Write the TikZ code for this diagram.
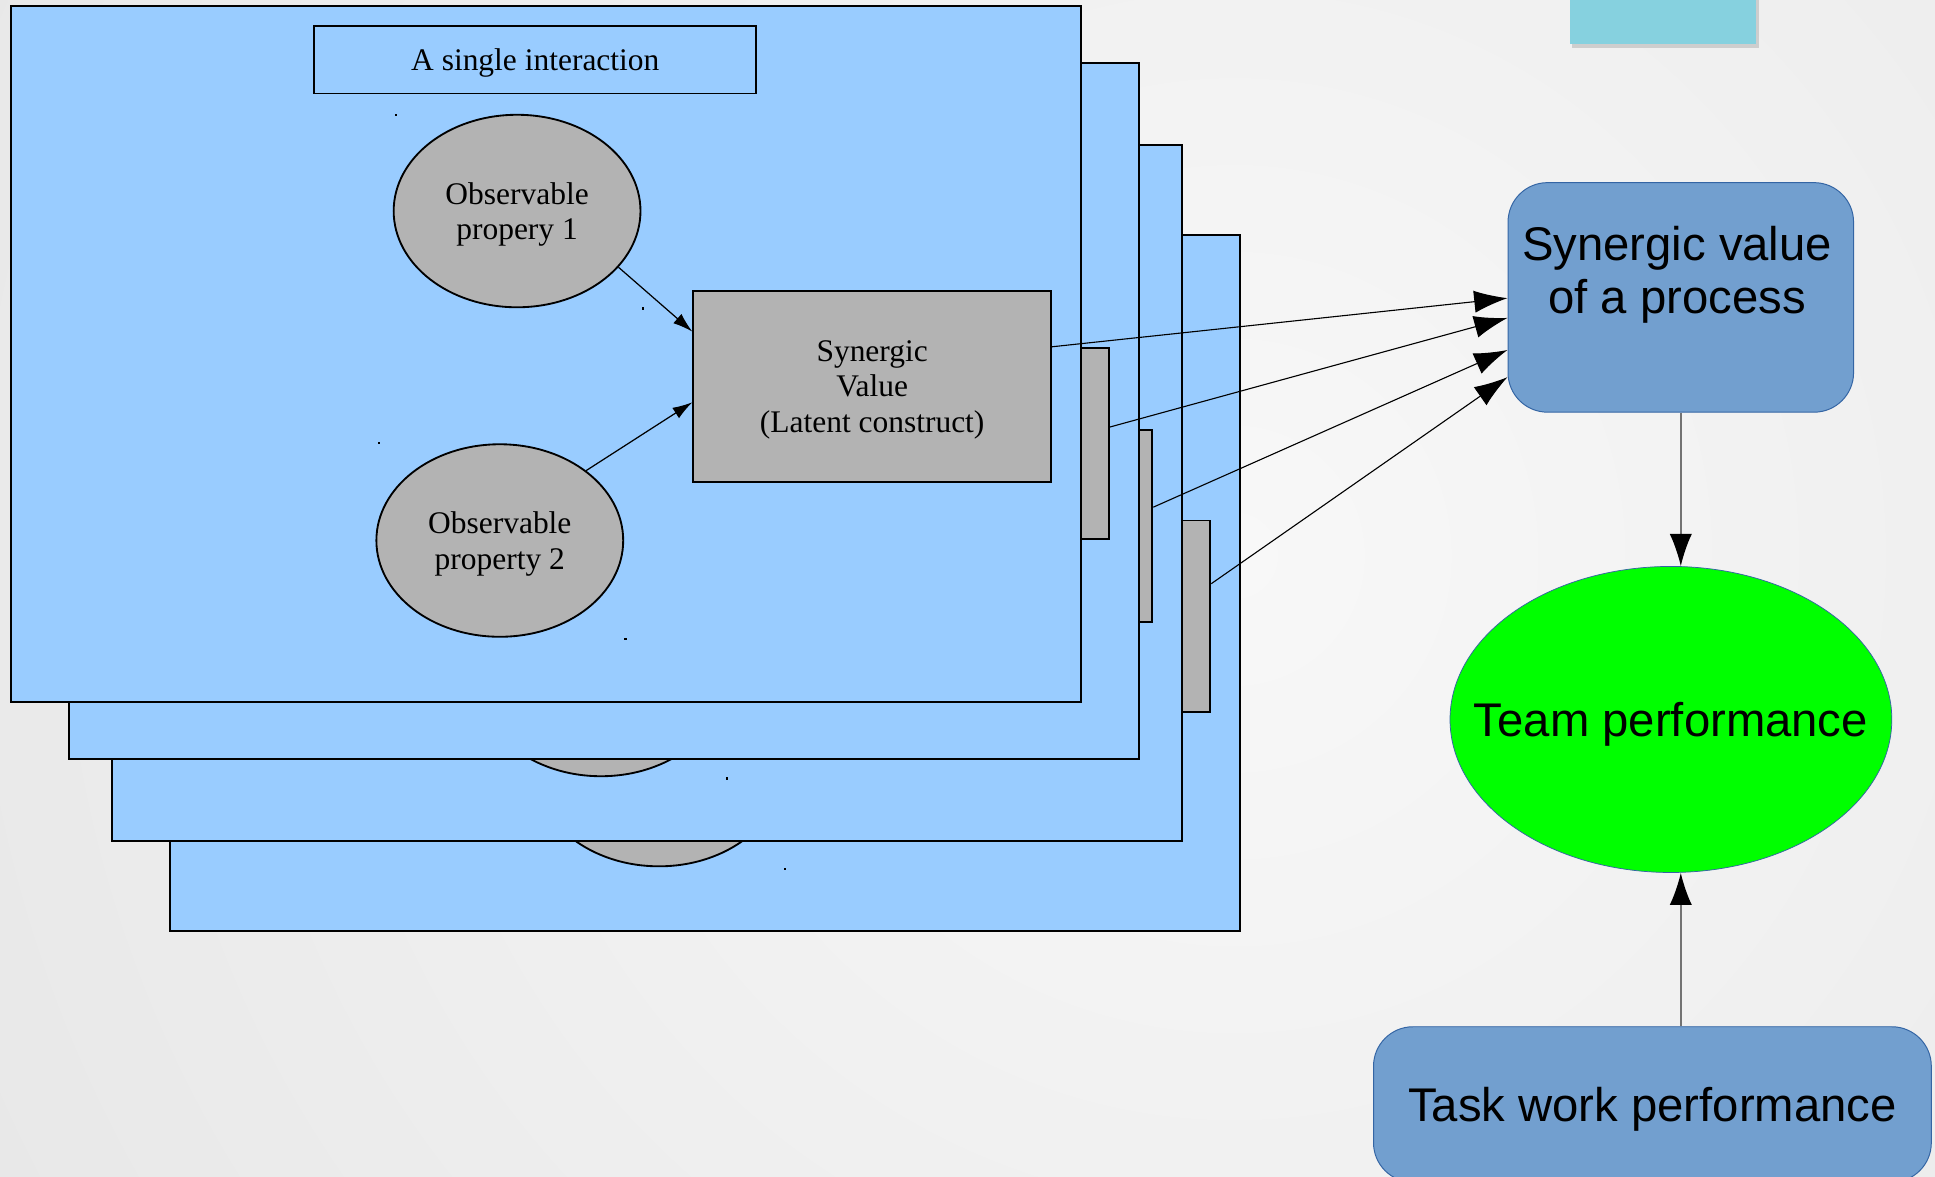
\documentclass[tikz,border=0pt]{standalone}
\usepackage{fontspec}
\setmainfont{Liberation Serif}
\newfontfamily\sansfam{Liberation Sans}
\usetikzlibrary{shapes.geometric,arrows.meta,calc,shadows}
\newcommand{\serifbig}{\fontsize{25.5}{29}\selectfont}
\newcommand{\sansbig}{\sansfam\fontsize{38.3}{43}\selectfont}
\definecolor{panelblue}{HTML}{99CCFF}
\definecolor{boxgray}{HTML}{B3B3B3}
\definecolor{procblue}{HTML}{729FCF}
\definecolor{procedge}{HTML}{3465A4}
\definecolor{tealbox}{HTML}{86D1DF}
\definecolor{bgin}{HTML}{F8F8F8}
\definecolor{bgout}{HTML}{DDDDDD}
\definecolor{teamgreen}{HTML}{00FF00}
\begin{document}
\begin{tikzpicture}[x=1pt,y=-1pt,
  panel/.style={draw=black, line width=1.5pt, fill=panelblue, anchor=north west,
    minimum width=867pt, minimum height=564pt, inner sep=0pt},
  titlebox/.style={draw=black, line width=1.5pt, anchor=north west, text depth=0pt,
    minimum width=358pt, minimum height=55pt, inner sep=0pt, font=\serifbig},
  obs/.style={ellipse, draw=black, line width=1.5pt, fill=boxgray, text depth=0pt,
    minimum width=200pt, minimum height=156pt, inner sep=0pt, align=center, font=\serifbig},
  latent/.style={rectangle, draw=black, line width=1.5pt, fill=boxgray, anchor=north west,
    text depth=0pt, minimum width=290pt, minimum height=155pt, inner sep=0pt,
    align=center, font=\serifbig},
  smallarrow/.style={line width=1pt, -{Latex[length=16pt,width=10pt]}},
  bigarrow/.style={line width=0.9pt, -{Latex[length=27pt,width=18pt]}},
  vline/.style={line width=1.2pt, draw=black!55, -{Latex[length=26pt,width=18pt,color=black]}},
  procbox/.style={rectangle, rounded corners=32pt, draw=procedge, line width=0.8pt,
    fill=procblue, inner sep=0pt},
  bigtext/.style={font=\sansbig, align=center, inner sep=0pt},
  dot/.style={fill=black},
  pics/layer/.style n args={4}{code={
    \node[panel] (-pan) at (8,4) {};
    \fill[dot] (320,92) rectangle +(2,2);
    \fill[dot] (520,249) rectangle +(2,2);
    \fill[dot] (306,358) rectangle +(2,2);
    \fill[dot] (506,517) rectangle +(2,2);
    \node[titlebox] (-title) at (254,20) {#1};
    \node[obs] (-e1) at (419,171) {#2};
    \node[obs] (-e2) at (405,438) {#3};
    \node[latent] (-sv) at (561,235) {#4};
    \draw[smallarrow] (-e1.-29) -- (-sv.163);
    \draw[smallarrow] (-e2.39) -- (-sv.185);
  }}
]
\useasboundingbox (0,0) rectangle (1568,953);
\clip (0,0) rectangle (1568,953);
\fill[bgout] (0,0) rectangle (1568,953);
\shade[inner color=bgin, outer color=bgout] (1000,450) circle (1900pt);

\pic (L4) at (129,186) {layer={}{}{}{}};
\pic (L3) at (82,113) {layer={}{}{}{}};
\pic (L2) at (47,46) {layer={}{}{}{}};
\pic (L1) at (0,0) {layer={A single interaction}{Observable\\propery 1}{Observable\\property 2}{Synergic\\Value\\(Latent construct)}};

\node[rectangle, fill=tealbox, minimum width=151pt, minimum height=48pt, inner sep=0pt,
  drop shadow={shadow xshift=2pt, shadow yshift=-3pt, opacity=0.3}] (teal) at (1347.5,12) {};

\node[procbox, minimum width=280pt, minimum height=186pt] (sp) at (1362,241) {};
\node[bigtext] (sptext) at (1359,223) {Synergic value\\of a process};

\node[ellipse, draw=procedge, line width=0.6pt, fill=teamgreen, minimum width=358pt,
  minimum height=248pt, inner sep=0pt, font=\sansbig, text depth=0pt] (te) at (1354,583)
  {\makebox[0pt][c]{Team performance}};

\node[procbox, minimum width=452pt, minimum height=126pt, font=\sansbig, text depth=0pt]
  (task) at (1339,895) {Task work performance};

\draw[bigarrow] ($(L1-sv.north east)+(0,46)$) -- ($(sp.north west)+(0,94)$);
\draw[bigarrow] ($(L2-sv.north east)+(0,65)$) -- ($(sp.north west)+(0,110)$);
\draw[bigarrow] ($(L3-sv.north east)+(0,63)$) -- ($(sp.north west)+(0,136)$);
\draw[bigarrow] ($(L4-sv.north east)+(0,52)$) -- ($(sp.north west)+(0,158)$);

\draw[vline] (sp.south) -- (sp.south |- te.north);
\draw[vline] (sp.south |- task.north) -- (sp.south |- te.south);
\end{tikzpicture}
\end{document}
